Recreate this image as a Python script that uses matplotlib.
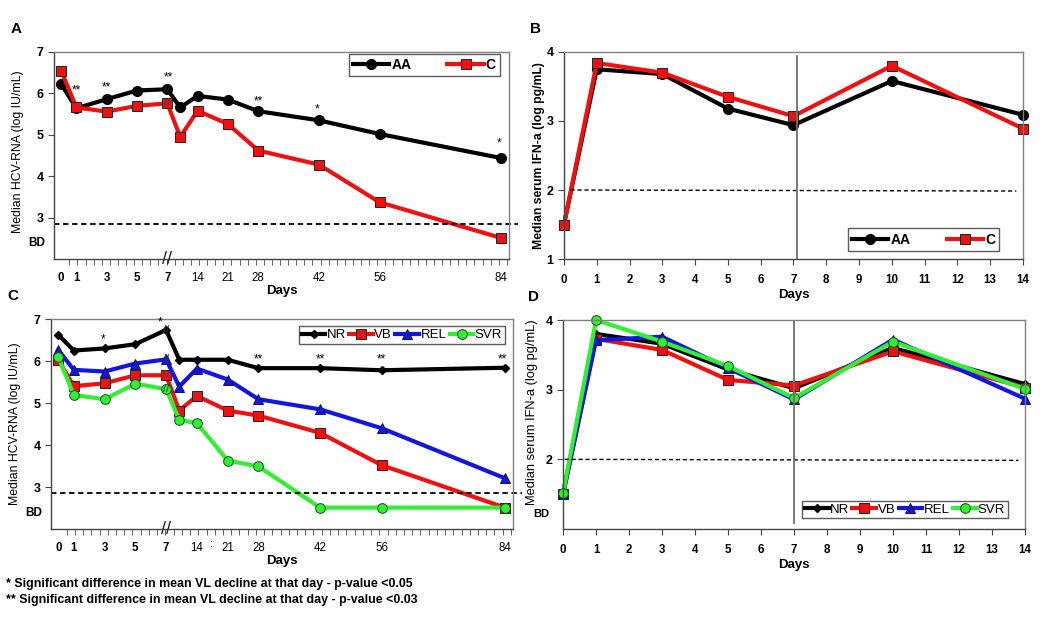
import numpy as np
import matplotlib
matplotlib.use('Agg')
import matplotlib.pyplot as plt

plt.rcParams['font.family'] = ['Liberation Sans', 'DejaVu Sans']

# ---- data ----
vl_days = [0, 1, 3, 5, 7, 10, 14, 21, 28, 42, 56, 84]
vl_AA = [6.22, 5.64, 5.86, 6.07, 6.10, 5.66, 5.94, 5.85, 5.57, 5.35, 5.02, 4.44]
vl_C = [6.54, 5.66, 5.56, 5.70, 5.76, 4.95, 5.58, 5.26, 4.62, 4.28, 3.37, 2.51]

vl_NR = [6.62, 6.25, 6.30, 6.40, 6.74, 6.03, 6.03, 6.03, 5.83, 5.83, 5.78, 5.84]
vl_VB = [6.02, 5.40, 5.47, 5.66, 5.66, 4.82, 5.17, 4.82, 4.70, 4.29, 3.52, 2.51]
vl_REL = [6.26, 5.79, 5.75, 5.94, 6.04, 5.39, 5.82, 5.56, 5.09, 4.85, 4.40, 3.21]
vl_SVR = [6.09, 5.19, 5.09, 5.46, 5.33, 4.60, 4.52, 3.63, 3.49, 2.51, 2.51, 2.51]

ifn_days = [0, 1, 3, 5, 7, 10, 14]
ifn_AA = [1.50, 3.75, 3.68, 3.18, 2.94, 3.58, 3.09]
ifn_C = [1.50, 3.84, 3.70, 3.35, 3.07, 3.80, 2.89]

ifn_NR = [1.51, 3.80, 3.66, 3.29, 3.02, 3.60, 3.08]
ifn_VB = [1.50, 3.73, 3.57, 3.14, 3.06, 3.55, 3.03]
ifn_REL = [1.50, 3.71, 3.76, 3.31, 2.86, 3.72, 2.87]
ifn_SVR = [1.51, 4.00, 3.69, 3.34, 2.88, 3.69, 3.01]

vl_ticks = [0, 1, 3, 5, 7, 14, 21, 28, 42, 56, 84]
vl_bd = 2.85
ifn_bd = 2.0

# significance marks: (day, y, text)
sig_A = [(1, 6.06, '**'), (3, 6.14, '**'), (7.3, 6.38, '**'), (28, 5.80, '**'),
         (41.5, 5.62, '*'), (83.5, 4.80, '*')]
sig_C = [(2.9, 6.52, '*'), (6.6, 6.92, '*'), (28, 6.04, '**'), (42, 6.04, '**'),
         (56, 6.04, '**'), (83.5, 6.04, '**')]

# ---- broken day axis: days 0-7 wide, later days compressed ----
K = 0.286


def fwd(d):
    d = np.asarray(d, float)
    return np.where(d <= 7, d, 7 + (d - 7) * K)


def inv(u):
    u = np.asarray(u, float)
    return np.where(u <= 7, u, 7 + (u - 7) / K)


fig = plt.figure(figsize=(10.5, 6.22), dpi=100)
axA = fig.add_axes([0.0514, 0.5836, 0.4333, 0.3328])
axB = fig.add_axes([0.5371, 0.5836, 0.4371, 0.3328])
axC = fig.add_axes([0.0486, 0.1495, 0.4400, 0.3376])
axD = fig.add_axes([0.5362, 0.1495, 0.4400, 0.3360])

LW = 3.0
sty = {
    'AA': dict(color='black', marker='o', ms=7, mfc='black', mec='black'),
    'C': dict(color='#ee1111', marker='s', ms=7, mfc='#ee1111', mec='#222222', mew=0.7),
    'NR': dict(color='black', marker='D', ms=4.5, mfc='black', mec='black'),
    'VB': dict(color='#ee1111', marker='s', ms=6.5, mfc='#ee1111', mec='#222222', mew=0.7),
    'REL': dict(color='#1515e0', marker='^', ms=7, mfc='#1515e0', mec='#101060', mew=0.7),
    'SVR': dict(color='#33ee33', marker='o', ms=7, mfc='#33ee33', mec='#115511', mew=0.7),
}


def frame(ax):
    for s in ax.spines.values():
        s.set_color('#808080')
        s.set_linewidth(1.0)
    ax.spines['left'].set_color('#444444')
    ax.spines['bottom'].set_color('#444444')


def vl_panel(ax, series, sig, label, ylab_y):
    ax.set_xscale('function', functions=(fwd, inv))
    for name, vals in series:
        ax.plot(vl_days, vals, lw=LW, label=name, clip_on=False, **sty[name])
        # break mark over each line at day 7
        ax.text(7, vals[vl_days.index(7)], '//', fontsize=8, ha='center', va='center',
                color='#333333', zorder=5)
    ax.set_xlim(-0.48, float(inv(29.56)))
    ax.set_ylim(2, 7)
    ax.plot([0, 1.02], [vl_bd, vl_bd], transform=ax.get_yaxis_transform(),
            color='black', ls=(0, (3, 2)), lw=1.3, clip_on=False)
    ax.set_yticks([3, 4, 5, 6, 7])
    ax.set_yticklabels(['3', '4', '5', '6', '7'], fontweight='bold', fontsize=9)
    ax.text(-0.02, 2.38, 'BD', transform=ax.get_yaxis_transform(), ha='right',
            va='center', fontsize=8.5, fontweight='bold')
    ax.set_xticks(vl_ticks)
    ax.set_xticklabels([str(d) for d in vl_ticks], fontsize=8.3)
    for t, d in zip(ax.get_xticklabels(), vl_ticks):
        t.set_fontweight('bold' if d <= 7 else 'normal')
    ax.xaxis.set_minor_locator(plt.FixedLocator(inv(np.arange(-1, 57) * 0.535)))
    ax.tick_params(axis='x', which='major', length=0, pad=9)
    ax.tick_params(axis='x', which='minor', length=4, direction='out', color='#444444')
    ax.tick_params(axis='y', length=4, direction='out', color='#444444')
    ax.text(7, 2.0, '//', fontsize=13, ha='center', va='center', clip_on=False,
            color='#222222', zorder=6)
    for d, y, s in sig:
        ax.text(d, y, s, fontsize=8.5, ha='center', va='center')
    ax.set_xlabel('Days', fontsize=9.5, fontweight='bold', labelpad=1)
    ax.set_ylabel('Median HCV-RNA (log IU/mL)', fontsize=8.8, labelpad=2)
    ax.yaxis.set_label_coords(-0.065, ylab_y)
    frame(ax)
    ax.text(-0.095, 1.11, label, transform=ax.transAxes, fontsize=11, fontweight='bold',
            ha='left', va='center')


def ifn_panel(ax, series, label, vline_x, vline_lo, bd_from, ylabel_bold, tick1):
    for name, vals in series:
        ax.plot(ifn_days, vals, lw=LW, label=name, clip_on=False, **sty[name])
    ax.set_xlim(0, 14)
    ax.set_ylim(1, 4)
    ax.plot([bd_from, 13.8], [ifn_bd, ifn_bd - 0.015], color='black', ls=(0, (3, 2)), lw=1.0)
    ax.axvline(vline_x, ymin=vline_lo, ymax=0.98 if tick1 else 1.0, color='#707070', lw=1.3)
    ax.set_xticks(range(15))
    ax.set_xticklabels([str(i) for i in range(15)], fontsize=8.3, fontweight='bold')
    if tick1:
        ax.set_yticks([1, 2, 3, 4])
        ax.set_yticklabels(['1', '2', '3', '4'], fontsize=9, fontweight='bold')
    else:
        ax.set_yticks([2, 3, 4])
        ax.set_yticklabels(['2', '3', '4'], fontsize=9, fontweight='bold')
        ax.text(-0.03, 1.21, 'BD', transform=ax.get_yaxis_transform(), ha='right',
                va='center', fontsize=8, fontweight='bold')
    ax.tick_params(axis='x', length=4, direction='out', pad=7, color='#444444')
    ax.tick_params(axis='y', length=4, direction='out', color='#444444')
    ax.set_xlabel('Days', fontsize=9.5, fontweight='bold', labelpad=2)
    if ylabel_bold:
        ax.set_ylabel('Median serum IFN-a (log pg/mL)', fontsize=8.8, fontweight='bold', labelpad=1)
    else:
        ax.set_ylabel('Median serum IFN-a (log pg/mL)', fontsize=9.3, labelpad=1)
        ax.yaxis.set_label_coords(-0.055, 0.56)
    frame(ax)
    ax.text(-0.075, 1.11, label, transform=ax.transAxes, fontsize=11, fontweight='bold',
            ha='left', va='center')


vl_panel(axA, [('AA', vl_AA), ('C', vl_C)], sig_A, 'A', 0.52)
legA = axA.legend(loc='upper right', bbox_to_anchor=(0.98, 0.99), ncol=2, fancybox=False,
                  edgecolor='#333333', handlelength=2.6, columnspacing=2.6,
                  prop={'weight': 'bold', 'size': 10}, borderpad=0.3, handletextpad=0.15,
                  borderaxespad=0)
legA.get_frame().set_linewidth(1.0)

ifn_panel(axB, [('AA', ifn_AA), ('C', ifn_C)], 'B', 7.1, 0.0, 0.2, True, True)
legB = axB.legend(loc='lower right', bbox_to_anchor=(0.948, 0.04), ncol=2, fancybox=False,
                  edgecolor='#333333', handlelength=2.6, columnspacing=2.6,
                  prop={'weight': 'bold', 'size': 10}, borderpad=0.3, handletextpad=0.15,
                  borderaxespad=0)
legB.get_frame().set_linewidth(1.0)

vl_panel(axC, [('NR', vl_NR), ('VB', vl_VB), ('REL', vl_REL), ('SVR', vl_SVR)], sig_C, 'C', 0.5)
axC.text(17.3, 2.0, ':', fontsize=8, ha='center', va='top', clip_on=False,
         transform=axC.transData + matplotlib.transforms.ScaledTranslation(0, -0.1, fig.dpi_scale_trans))
legC = axC.legend(loc='upper right', bbox_to_anchor=(0.982, 0.965), ncol=4, fancybox=False,
                  edgecolor='#333333', handlelength=1.8, columnspacing=0.25,
                  prop={'size': 9.5}, borderpad=0.2, handletextpad=0.1, borderaxespad=0)
legC.get_frame().set_linewidth(1.0)

ifn_panel(axD, [('NR', ifn_NR), ('VB', ifn_VB), ('REL', ifn_REL), ('SVR', ifn_SVR)],
          'D', 7.0, 0.03, 0.05, False, False)
legD = axD.legend(loc='lower right', bbox_to_anchor=(0.963, 0.052), ncol=4, fancybox=False,
                  edgecolor='#333333', handlelength=1.8, columnspacing=0.25,
                  prop={'size': 9.5}, borderpad=0.2, handletextpad=0.1, borderaxespad=0)
legD.get_frame().set_linewidth(1.0)

fig.text(0.006, 1 - 584 / 622, '* Significant difference in mean VL decline at that day - p-value <0.05',
         fontsize=8.9, fontweight='bold', va='center')
fig.text(0.006, 1 - 600 / 622, '** Significant difference in mean VL decline at that day - p-value <0.03',
         fontsize=8.9, fontweight='bold', va='center')

fig.savefig('out.png', dpi=100)
